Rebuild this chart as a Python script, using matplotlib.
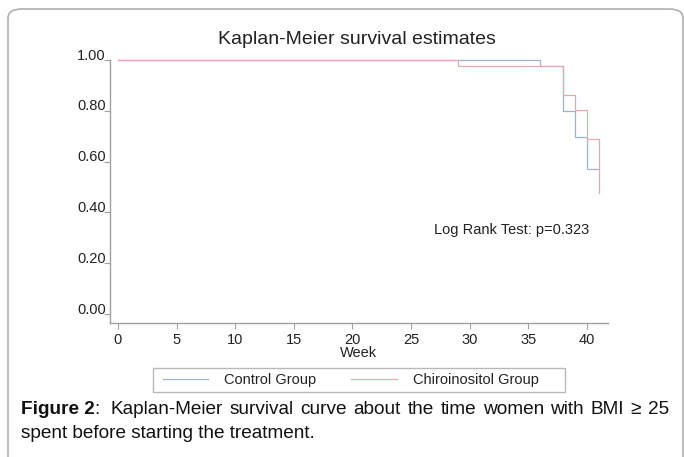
import matplotlib
matplotlib.use('Agg')
from matplotlib import pyplot as plt
import matplotlib.transforms as mtrans
from matplotlib.patches import FancyBboxPatch, Rectangle

plt.rcParams['font.family'] = ['Liberation Sans', 'DejaVu Sans']

# Kaplan-Meier steps
control_weeks = [0, 36, 38, 39, 40, 41]
control_surv = [1.0, 0.977, 0.80, 0.698, 0.572, 0.572]
chiro_weeks = [0, 29, 38, 39, 40, 41]
chiro_surv = [1.0, 0.977, 0.861, 0.803, 0.688, 0.477]

x_ticks = [0, 5, 10, 15, 20, 25, 30, 35, 40]
y_ticks = [0.0, 0.2, 0.4, 0.6, 0.8, 1.0]
y_labels = ['0.00', '0.20', '0.40', '0.60', '0.80', '1.00']
group_names = ['Control Group', 'Chiroinositol Group']

W, H = 684, 457
fig = plt.figure(figsize=(W / 100, H / 100), dpi=100)

# rounded frame round the whole figure (runs off the bottom)
frame = FancyBboxPatch((8 / W, -0.2), 675 / W, 1.2 - 9 / H, boxstyle='round,pad=0,rounding_size=0.02',
                       transform=fig.transFigure, fill=False, edgecolor='#b0b0b0', lw=1.2)
fig.patches.append(frame)

ax = fig.add_axes([110 / W, (H - 323) / H, 498 / W, (323 - 60) / H])
l1, = ax.step(control_weeks, control_surv, where='post', color='#9db4cc', lw=0.9, clip_on=False)
l2, = ax.step(chiro_weeks, chiro_surv, where='post', color='#e6a9b1', lw=0.9, clip_on=False)

ax.set_xlim(-0.68, 41.8)
ax.set_ylim(-0.035, 1.0)
for s in ['top', 'right']:
    ax.spines[s].set_visible(False)
for s in ['left', 'bottom']:
    ax.spines[s].set_color('#a0a0a0')
    ax.spines[s].set_linewidth(1.0)

ax.set_xticks(x_ticks)
ax.set_yticks(y_ticks)
ax.set_yticklabels(y_labels)
ax.tick_params(axis='both', colors='#a0a0a0', labelcolor='#222222', labelsize=10.5, length=4, width=0.8)
ax.tick_params(axis='y', pad=-1)
ax.tick_params(axis='x', pad=3)
for lab in ax.get_yticklabels():
    lab.set_transform(lab.get_transform() + mtrans.ScaledTranslation(0, 6 / 100, fig.dpi_scale_trans))
ax.set_xlabel('Week', fontsize=10.5, color='#222222', labelpad=-0.5)

ax.text(27.0, 0.33, 'Log Rank Test: p=0.323', fontsize=10.5, color='#222222', va='center')

fig.text(357 / W, 1 - 40 / H, 'Kaplan-Meier survival estimates', fontsize=14, color='#222222',
         ha='center', va='center')

# legend: plain box with the two keys
fig.patches.append(Rectangle((153 / W, (H - 392) / H), 412 / W, 24 / H, transform=fig.transFigure,
                             fill=False, edgecolor='#b8b8b8', lw=1.0))
leg = fig.legend([l1, l2], group_names, ncol=2, loc='center left',
                 bbox_to_anchor=(163 / W, (H - 380) / H), frameon=False, fontsize=10.5,
                 handlelength=3.1, handletextpad=1.1, columnspacing=2.4, borderpad=0, borderaxespad=0)
for t in leg.get_texts():
    t.set_color('#222222')

# caption, first line justified between x=21 and x=669
cap_size = 13.7
words = ['Figure 2:', 'Kaplan-Meier', 'survival', 'curve', 'about', 'the', 'time', 'women',
         'with', 'BMI', '\u2265', '25']
y1 = 1 - 410 / H
fig.canvas.draw()
r = fig.canvas.get_renderer()
pieces = []
for w in words:
    if w == 'Figure 2:':
        ta = fig.text(0, y1, 'Figure 2', fontsize=cap_size, fontweight='bold', color='#111111', va='center')
        wa = ta.get_window_extent(r).width
        tb = fig.text(0, y1, ':', fontsize=cap_size, color='#111111', va='center')
        wb = tb.get_window_extent(r).width
        pieces.append(([(ta, 0), (tb, wa)], wa + wb + 4))
    else:
        t = fig.text(0, y1, w, fontsize=cap_size, color='#111111', va='center')
        pieces.append(([(t, 0)], t.get_window_extent(r).width))
total = sum(p[1] for p in pieces)
gap = (669 - 21 - total) / (len(pieces) - 1)
x = 21
for parts, width in pieces:
    for t, off in parts:
        t.set_x((x + off) / W)
    x += width + gap
fig.text(21 / W, 1 - 433 / H, 'spent before starting the treatment.', fontsize=cap_size, color='#111111',
         va='center')

fig.savefig('out.png', dpi=100)
